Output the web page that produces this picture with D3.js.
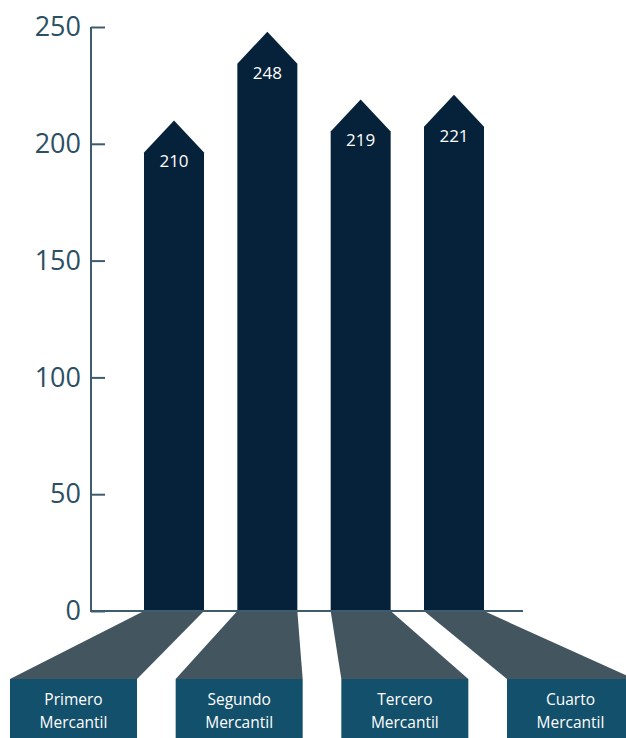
<!DOCTYPE html>
<html><head><meta charset="utf-8">
<script src="https://cdn.jsdelivr.net/npm/d3@7"></script>
<style>html,body{margin:0;padding:0;background:#fff;}svg{display:block;}</style>
</head><body>
<script>
const categories = ["Primero Mercantil", "Segundo Mercantil", "Tercero Mercantil", "Cuarto Mercantil"];
const labelLine1 = ["Primero", "Segundo", "Tercero", "Cuarto"];
const labelLine2 = ["Mercantil", "Mercantil", "Mercantil", "Mercantil"];
const values = [210, 248, 219, 221];
const tickValues = [0, 50, 100, 150, 200, 250];

const W = 626, H = 738;
const svg = d3.select("body").append("svg").attr("width", W).attr("height", H);

const y = d3.scaleLinear().domain([0, 250]).range([611, 27]);
const x = d3.scalePoint().domain(categories).range([174, 454]);
const boxX = d3.scalePoint().domain(categories).range([73.5, 570.5]);
const barW = 60, tipH = 32, boxW = 127, boxTop = 679;

const fontFam = "'Open Sans', 'Noto Sans', sans-serif";

// connectors
svg.append("g").selectAll("path").data(categories).join("path")
  .attr("d", (c) => {
    const xc = x(c), bc = boxX(c);
    return `M${xc - barW/2},${y(0)} L${xc + barW/2},${y(0)} L${bc + boxW/2},${boxTop} L${bc - boxW/2},${boxTop} Z`;
  })
  .attr("fill", "#43555f");

// boxes
svg.append("g").selectAll("rect").data(categories).join("rect")
  .attr("x", c => boxX(c) - boxW/2).attr("y", boxTop)
  .attr("width", boxW).attr("height", H - boxTop + 10)
  .attr("fill", "#13506b");

const lbl = svg.append("g").attr("font-family", fontFam).attr("font-size", 15.5)
  .attr("fill", "#ffffff").attr("text-anchor", "middle");
categories.forEach((c, i) => {
  lbl.append("text").attr("x", boxX(c)).attr("y", 705).text(labelLine1[i]);
  lbl.append("text").attr("x", boxX(c)).attr("y", 728).text(labelLine2[i]);
});

// bars
svg.append("g").selectAll("path").data(categories).join("path")
  .attr("d", (c, i) => {
    const xc = x(c), yp = y(values[i]);
    return `M${xc - barW/2},${y(0)} L${xc - barW/2},${yp + tipH} L${xc},${yp} L${xc + barW/2},${yp + tipH} L${xc + barW/2},${y(0)} Z`;
  })
  .attr("fill", "#05223a");

svg.append("g").selectAll("text").data(categories).join("text")
  .attr("x", c => x(c)).attr("y", (c, i) => y(values[i]) + tipH + 15)
  .attr("text-anchor", "middle").attr("font-family", fontFam).attr("font-size", 17)
  .attr("fill", "#ffffff").text((c, i) => values[i]);

// axis
const axis = d3.axisLeft(y).tickValues(tickValues).tickSize(-14).tickPadding(-36);
const ag = svg.append("g").attr("transform", "translate(91,0)").call(axis);
ag.select(".domain").remove();
ag.append("line").attr("x1", 0).attr("x2", 0).attr("y1", y(250)).attr("y2", y(0))
  .attr("stroke", "#3e5c6e").attr("stroke-width", 2);
ag.selectAll(".tick line").attr("stroke", "#3e5c6e").attr("stroke-width", 2);
ag.selectAll(".tick text").attr("font-family", fontFam).attr("font-size", 27)
  .attr("fill", "#2c4f63").attr("x", -10).attr("text-anchor", "end");
svg.append("line").attr("x1", 90).attr("x2", 523).attr("y1", y(0)).attr("y2", y(0))
  .attr("stroke", "#3e5c6e").attr("stroke-width", 2);
</script>
</body></html>
